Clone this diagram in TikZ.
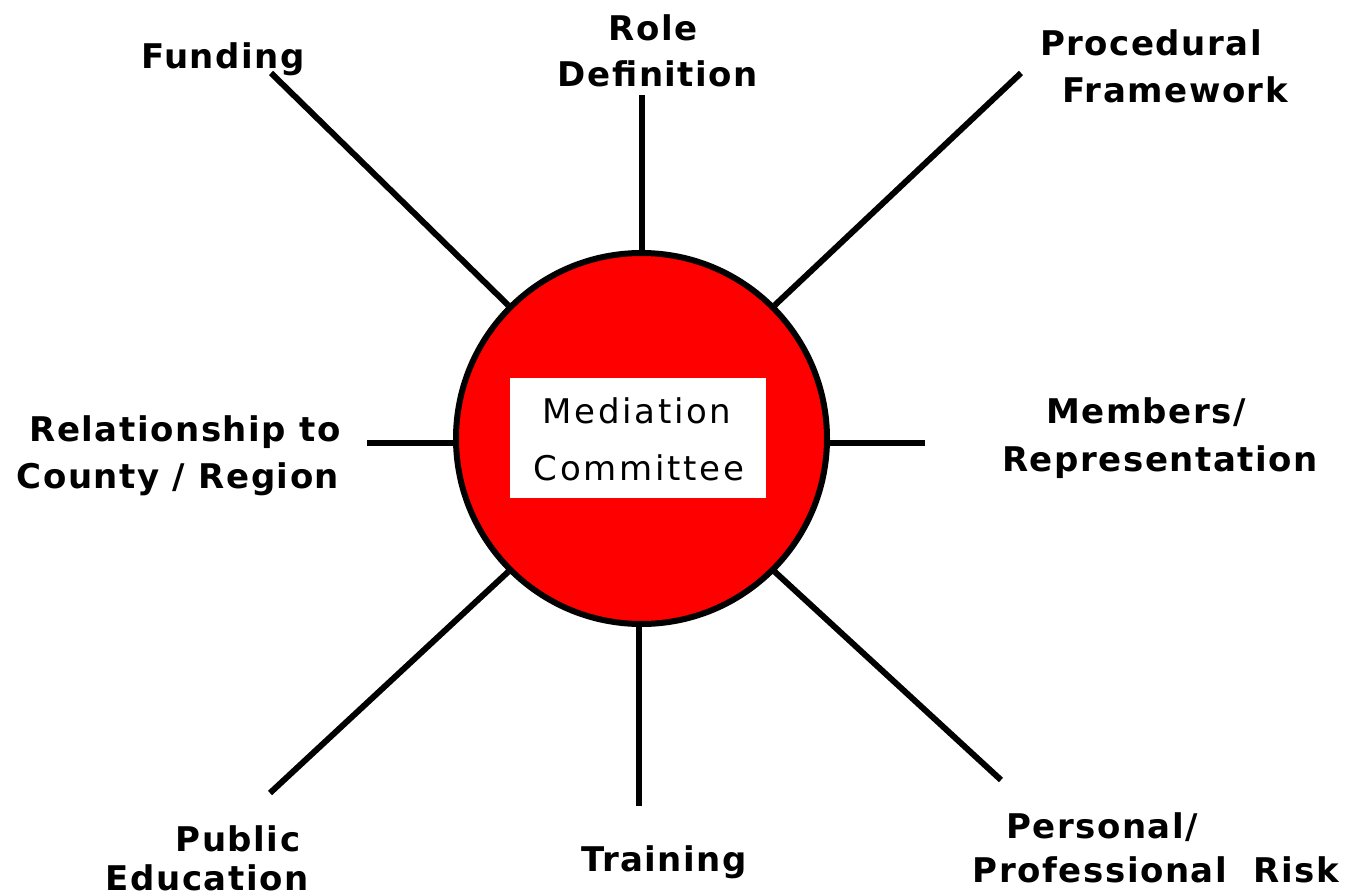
\documentclass[tikz,border=0pt]{standalone}
\usepackage{fontspec}
\setmainfont{DejaVu Sans}
\newfontfamily\labfont[LetterSpace=4.5]{DejaVu Sans Bold}
\newfontfamily\ctrfont[LetterSpace=8]{DejaVu Sans}
\begin{document}
\begin{tikzpicture}[x=1pt,y=-1pt,
  spoke/.style={line width=6pt},
  lab/.style={inner sep=0pt,anchor=base,font=\labfont\fontsize{34}{40}\selectfont},
  ctr/.style={inner sep=0pt,anchor=base,font=\ctrfont\fontsize{34}{40}\selectfont}]
\useasboundingbox (0,0) rectangle (1353,896);
\fill[white] (0,0) rectangle (1353,896);
% hub
\node[circle,draw=black,fill=red,line width=6pt,minimum size=371pt,inner sep=0pt] (hub) at (641.5,438.5) {};
\node[fill=white,minimum width=256pt,minimum height=120pt,inner sep=0pt] (box) at (638,438) {};
\node[ctr] (m1) at (637,423) {Mediation};
\node[ctr] (m2) at (639,480) {Committee};
% end points
\coordinate (eF) at (271,73);
\coordinate (eR) at (642,95);
\coordinate (eP) at (1021,73);
\coordinate (eM) at (925,443);
\coordinate (eC) at (367,443);
\coordinate (eE) at (270,793);
\coordinate (eT) at (639,806);
\coordinate (eK) at (1001,780);
\draw[spoke] (eF) -- (hub.135);
\draw[spoke] (eR) -- (eR |- hub.north);
\draw[spoke] (eP) -- (hub.45);
\draw[spoke] (eM) -- (eM -| hub.east);
\draw[spoke] (eC) -- (eC -| hub.west);
\draw[spoke] (eE) -- (hub.225);
\draw[spoke] (eT) -- (eT |- hub.south);
\draw[spoke] (eK) -- (hub.315);
% labels
\node[lab] (lF) at (223,69) {Funding};
\node[lab] (lR1) at (653,41) {Role};
\node[lab] (lR2) at (658,87) {Definition};
\node[lab] (lP1) at (1151,56) {Procedural};
\node[lab] (lP2) at (1175,103) {Framework};
\node[lab] (lM1) at (1146,423) {Members/};
\node[lab] (lM2) at (1160,471) {Representation};
\node[lab] (lC1) at (185,441) {Relationship to};
\node[lab] (lC2) at (178,488) {County / Region};
\node[lab] (lE1) at (238,851) {Public};
\node[lab] (lE2) at (207,890) {Education};
\node[lab] (lT) at (664,871) {Training};
\node[lab] (lK1) at (1102,838) {Personal/};
\node[lab] (lK2) at (1156,882) {Professional\ \ Risk};
\end{tikzpicture}
\end{document}
